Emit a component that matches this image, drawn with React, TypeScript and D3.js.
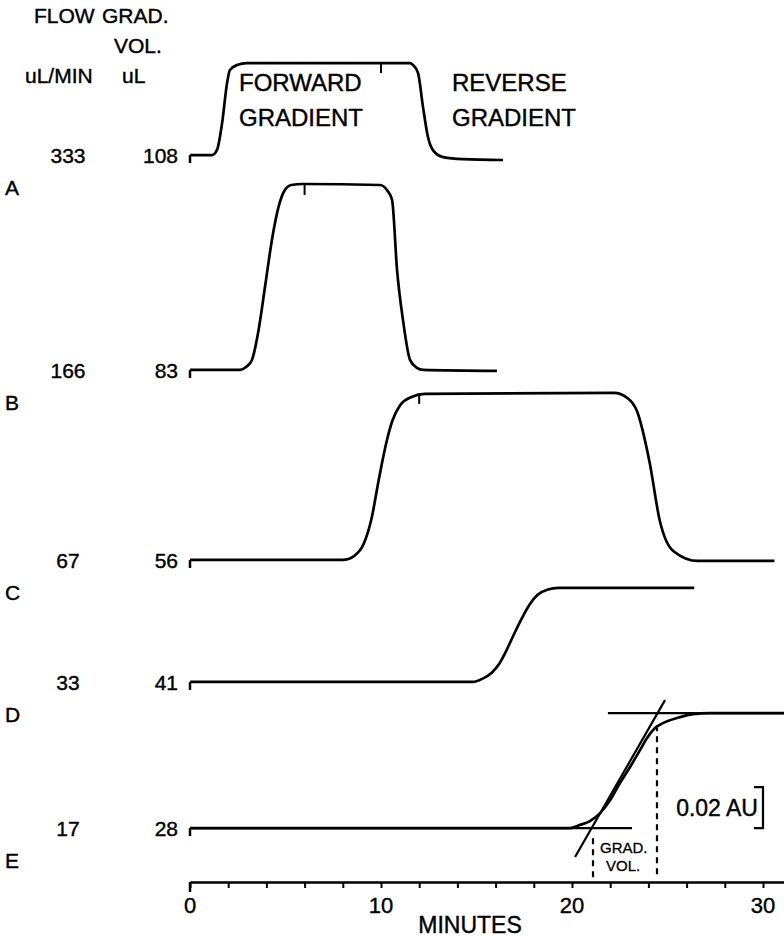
import React, { useEffect, useRef } from 'react';
import * as d3 from 'd3';

// Values: time in minutes, absorbance in mAU above each trace's baseline
const traceNames = ['A', 'B', 'C', 'D', 'E'];
const flowRates = ['333', '166', '67', '33', '17'];
const gradVolumes = ['108', '83', '56', '41', '28'];
// baseline of each trace above the time axis (mAU)
const traceOffsets = [354.6, 249.8, 157.1, 97.6, 26.3];
// injection marks on the plateau (minutes)
const markerTimes = [10, 6, 12, null, null];

const traceA: [number, number][] = [
  [0, 0], [1.15, 0], [1.41, 2.4], [1.68, 15.6], [1.94, 35.1], [2.09, 41.5], [2.46, 43.9],
  [2.98, 44.9], [11.52, 44.9], [11.68, 43.9], [11.94, 40], [12.2, 23.4], [12.46, 8.8],
  [12.72, 2.4], [13.25, -1], [14.29, -2], [16.39, -2.4],
];
const traceB: [number, number][] = [
  [0, 0], [2.62, 0], [2.95, 1.5], [3.25, 5], [3.6, 20], [3.95, 42], [4.3, 64], [4.65, 80],
  [4.95, 87.5], [5.3, 90.2], [5.92, 90.7], [9.95, 90.2], [10.31, 87.8],
  [10.58, 82.9], [10.84, 48.8], [11.15, 24.4], [11.52, 4.9], [11.88, 1], [12.2, 0], [16.07, -0.5],
];
const traceC: [number, number][] = [
  [0, 0], [8.0, 0], [8.6, 2], [9.1, 8], [9.5, 20], [9.9, 40], [10.3, 58], [10.6, 68],
  [11.0, 75.5], [11.6, 79.5], [12.3, 81], [22.2, 81.5], [22.9, 79], [23.4, 72.7],
  [24.05, 48.3], [24.6, 19], [25.3, 4.4], [26.6, -0.5], [30.6, -0.5],
];
const traceD: [number, number][] = [
  [0, 0], [14.8, 0], [15.3, 1.5], [15.8, 4.5], [16.2, 9], [16.6, 16], [17.0, 24],
  [17.4, 31.5], [17.8, 38], [18.2, 42.5], [18.7, 45], [19.3, 45.9], [26.4, 45.9],
];
const traceE: [number, number][] = [
  [0, 0], [19.9, 0], [20.4, 1.5], [20.94, 3.4], [21.47, 7.3], [22.0, 13.7], [22.51, 22],
  [23.04, 29.8], [23.56, 38], [23.93, 43.9], [24.35, 48.8], [24.76, 51.2], [25.5, 53.7],
  [26.34, 55.6], [27.2, 56.1], [31.1, 56.1],
];
const traces = [traceA, traceB, traceC, traceD, traceE];

// construction lines on trace E (minutes, mAU relative to E baseline)
const tangentLine: [number, number][] = [[20.16, -14.1], [24.87, 62.4]];
const baseLine: [number, number][] = [[0, 0], [23.14, 0]];
const plateauLine: [number, number][] = [[21.88, 56.1], [31.1, 56.1]];
const dashedLines: [number, number, number][] = [
  [21.1, -4.9, -24],
  [24.45, 50.2, -24],
];
const scaleBarAU = 20; // 0.02 AU
const scaleBarTime = 30;

const timeTicks = d3.range(0, 31, 2);
const timeLabels = [0, 10, 20, 30];

const W = 784;
const H = 937;
const font = 'Liberation Sans, Arial, Helvetica, sans-serif';

export default function App() {
  const axisRef = useRef<SVGGElement>(null);

  const x = d3.scaleLinear().domain([0, 31.1]).range([190, 784]);
  const y = d3.scaleLinear().domain([0, 400]).range([882, 882 - 400 * 2.05]);

  useEffect(() => {
    document.body.style.margin = '0';
    const g = d3.select(axisRef.current);
    g.selectAll('*').remove();
    g.attr('transform', `translate(0, ${y(0)})`)
      .call(
        d3.axisBottom(x)
          .tickValues(timeTicks)
          .tickSizeInner(6)
          .tickSizeOuter(0)
          .tickFormat(() => '')
      );
    g.select('.domain').attr('stroke', '#000').attr('stroke-width', 2.5);
    g.selectAll('.tick line').attr('stroke', '#000').attr('stroke-width', 2);
  }, []);

  const lineFor = (offset: number) =>
    d3.line<[number, number]>()
      .x((d) => x(d[0]))
      .y((d) => y(offset + d[1]))
      .curve(d3.curveMonotoneX);

  const straight = (offset: number) =>
    d3.line<[number, number]>()
      .x((d) => x(d[0]))
      .y((d) => y(offset + d[1]));

  const eOff = traceOffsets[4];

  return (
    <svg width={W} height={H} style={{ display: 'block', background: '#fff' }} fontFamily={font}>
      {/* column headers */}
      <g fontSize={21} fill="#000" stroke="#000" strokeWidth={0.4}>
        <text x={34} y={23}>FLOW</text>
        <text x={102} y={23}>GRAD.</text>
        <text x={114} y={53}>VOL.</text>
        <text x={25} y={83}>uL/MIN</text>
        <text x={122} y={83}>uL</text>
      </g>
      <g fontSize={24} fill="#000" stroke="#000" strokeWidth={0.4}>
        <text x={239} y={91}>FORWARD</text>
        <text x={239} y={126}>GRADIENT</text>
        <text x={452} y={91}>REVERSE</text>
        <text x={452} y={126}>GRADIENT</text>
      </g>

      {traces.map((t, i) => {
        const off = traceOffsets[i];
        const by = y(off);
        const m = markerTimes[i];
        let markerVal = 0;
        if (m !== null) {
          for (let k = 1; k < t.length; k++) {
            if (t[k][0] >= m) { markerVal = t[k][1]; break; }
          }
        }
        return (
          <g key={traceNames[i]}>
            <g fontSize={21} stroke="#000" strokeWidth={0.4}>
              <text x={68} y={by + 8} textAnchor="middle">{flowRates[i]}</text>
              <text x={178} y={by + 8} textAnchor="end">{gradVolumes[i]}</text>
              <text x={5} y={by + 40}>{traceNames[i]}</text>
            </g>
            <line x1={x(0)} x2={x(0)} y1={by} y2={by + 8} stroke="#000" strokeWidth={2.5} />
            <path d={lineFor(off)(t) || ''} fill="none" stroke="#000" strokeWidth={2.7} strokeLinejoin="round" />
            {m !== null && (
              <line x1={x(m)} x2={x(m)} y1={y(off + markerVal)} y2={y(off + markerVal) + 10}
                stroke="#000" strokeWidth={2} />
            )}
          </g>
        );
      })}

      {/* construction on trace E */}
      <path d={straight(eOff)(baseLine) || ''} stroke="#000" strokeWidth={2.4} fill="none" />
      <path d={straight(eOff)(plateauLine) || ''} stroke="#000" strokeWidth={2.4} fill="none" />
      <path d={straight(eOff)(tangentLine) || ''} stroke="#000" strokeWidth={2.2} fill="none" />
      {dashedLines.map((d, i) => (
        <line key={i} x1={x(d[0])} x2={x(d[0])} y1={y(eOff + d[1])} y2={y(eOff + d[2])}
          stroke="#000" strokeWidth={2.2} strokeDasharray="6,5" />
      ))}
      <g fontSize={15} stroke="#000" strokeWidth={0.3}>
        <text x={600} y={853}>GRAD.</text>
        <text x={606} y={871}>VOL.</text>
      </g>

      {/* 0.02 AU scale bar */}
      <path
        d={`M${x(scaleBarTime) - 9},${y(eOff + scaleBarAU)} H${x(scaleBarTime)} V${y(eOff)} H${x(scaleBarTime) - 9}`}
        fill="none" stroke="#000" strokeWidth={2.2} />
      <text x={x(scaleBarTime) - 5} y={y(eOff + scaleBarAU / 2) + 8} fontSize={23}
        textAnchor="end" stroke="#000" strokeWidth={0.4}>0.02 AU</text>

      {/* time axis */}
      <g ref={axisRef} />
      <line x1={x(0)} x2={x(0)} y1={y(0)} y2={y(0) + 10} stroke="#000" strokeWidth={2.5} />
      <g fontSize={22} stroke="#000" strokeWidth={0.4}>
        {timeLabels.map((t) => (
          <text key={t} x={x(t)} y={y(0) + 31} textAnchor="middle">{t}</text>
        ))}
        <text x={470} y={933} fontSize={23} textAnchor="middle">MINUTES</text>
      </g>
    </svg>
  );
}
